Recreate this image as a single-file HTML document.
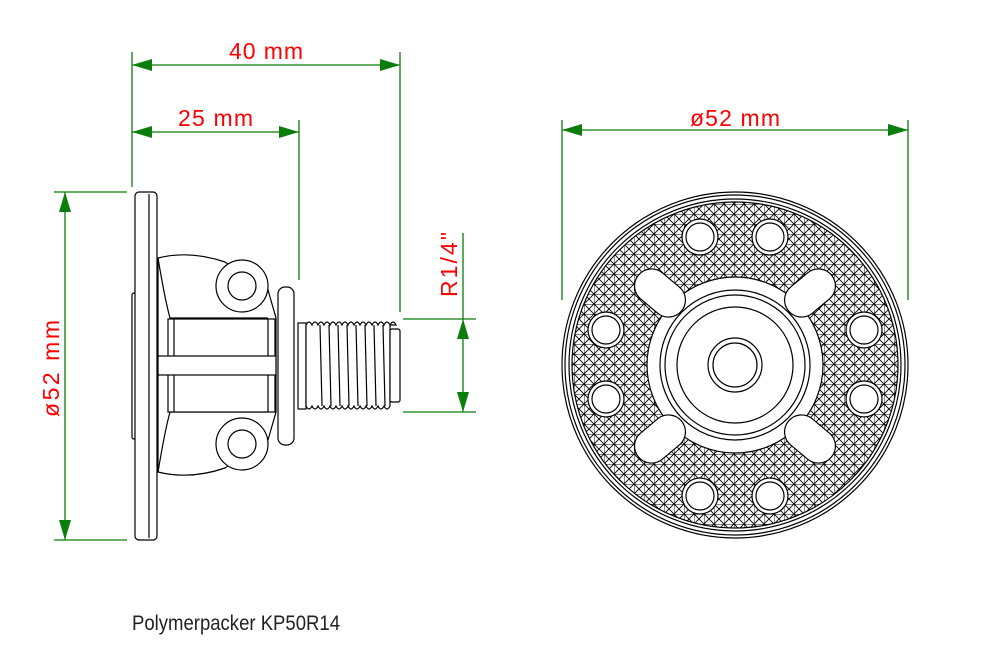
<!DOCTYPE html>
<html><head><meta charset="utf-8"><style>
html,body{margin:0;padding:0;background:#fff;width:1002px;height:667px;overflow:hidden}
svg{display:block}
.d{stroke:#0a7d0a;stroke-width:1.3;fill:none}
.a{fill:#0a7d0a}
.t{fill:#f00;font-family:"Liberation Sans Narrow","Liberation Sans",sans-serif;font-size:23px}
.k{stroke:#000;stroke-width:1.2;fill:#fff}
.n{stroke:#000;stroke-width:1.2;fill:none}
</style></head><body>
<svg width="1002" height="667" viewBox="0 0 1002 667" xmlns="http://www.w3.org/2000/svg">
<defs>
<pattern id="h" width="10" height="10" patternUnits="userSpaceOnUse" x="4" y="4">
<path d="M0 0H10M0 0V10M0 0L10 10M10 0L0 10" stroke="#000" stroke-width="0.9" fill="none"/>
</pattern>
<clipPath id="c"><circle cx="735" cy="365" r="163"/></clipPath>
</defs>
<g class="d">
<path d="M132 52V187M400 52V312M299 120V280"/>
<path d="M132 65H400M132 132H299"/>
<path d="M54 192H127M54 540H127M65 192V540"/>
<path d="M403 319H476M403 412H476M463 233V412"/>
<path d="M562 120V300M908 120V300M562 130H908"/>
</g>
<g class="a">
<path d="M132 65l20-6v12zM400 65l-20-6v12z"/>
<path d="M132 132l20-6v12zM299 132l-20-6v12z"/>
<path d="M65 192l-6 20h12zM65 540l-6-20h12z"/>
<path d="M463 319l-6 20h12zM463 412l-6-20h12z"/>
<path d="M562 130l20-6v12zM908 130l-20-6v12z"/>
</g>
<text class="t" x="229" y="59" textLength="74" lengthAdjust="spacing">40 mm</text>
<text class="t" x="178" y="126" textLength="75" lengthAdjust="spacing">25 mm</text>
<text class="t" x="690" y="126" textLength="90" lengthAdjust="spacing">ø52 mm</text>
<text class="t" transform="translate(59,417) rotate(-90)" textLength="97" lengthAdjust="spacing">ø52 mm</text>
<text class="t" transform="translate(457,297) rotate(-90)" textLength="65" lengthAdjust="spacing">R1/4"</text>
<text x="132" y="630" font-family="Liberation Sans Narrow, Liberation Sans, sans-serif" font-size="21" fill="#222" textLength="208" lengthAdjust="spacingAndGlyphs">Polymerpacker KP50R14</text>

<g>
<path class="k" d="M158 258 Q190 250 225 262 L268 290 L276 318 L276 412 L268 440 L225 468 Q190 480 158 472 Z"/>
<path class="n" d="M158 258 Q165 300 170 318 L268 318 M158 472 Q165 430 170 412 L268 412"/>
<rect class="k" x="168" y="319" width="107" height="93"/>
<path class="n" d="M174 319V412M268 319V412"/>
<rect class="k" x="158" y="356" width="118" height="19"/>
<circle class="k" cx="242" cy="286" r="26"/><circle class="n" cx="242" cy="286" r="14"/>
<circle class="k" cx="242" cy="444" r="26"/><circle class="n" cx="242" cy="444" r="14"/>
<rect class="k" x="132" y="293" width="6" height="146" rx="2"/>
<rect class="k" x="135" y="192" width="22" height="348" rx="4"/>
<path class="n" d="M149 194V538"/>
<rect class="k" x="298" y="323" width="8" height="86"/>
<path class="k" d="M306 325 q3-6 6 0 q3-6 6 0 q3-6 6 0 q3-6 6 0 q3-6 6 0 q3-6 6 0 q3-6 6 0 q3-6 6 0 q3-6 6 0 q3-6 6 0 q3-6 6 0 q3-6 6 0 q3-6 6 0 q3-6 6 0 q3-6 6 0 L390 325 L390 406 q-3 6-6 0 q-3 6-6 0 q-3 6-6 0 q-3 6-6 0 q-3 6-6 0 q-3 6-6 0 q-3 6-6 0 q-3 6-6 0 q-3 6-6 0 q-3 6-6 0 q-3 6-6 0 q-3 6-6 0 q-3 6-6 0 q-3 6-6 0 Z"/>
<path class="n" d="M320 325 L322 406 M329 325 L331 406 M338 325 L340 406 M347 325 L349 406 M356 325 L358 406 M365 325 L367 406 M374 325 L376 406 M383 325 L385 406"/>
<rect class="k" x="390" y="329" width="10" height="73" rx="2"/>
<rect class="k" x="278" y="287" width="16" height="158" rx="7"/>
</g>

<g>
<circle class="n" cx="735" cy="365" r="173"/>
<circle class="n" cx="735" cy="365" r="170"/>
<circle class="n" cx="735" cy="365" r="166"/>
<rect x="560" y="190" width="350" height="350" fill="url(#h)" clip-path="url(#c)"/>
<circle class="n" cx="735" cy="365" r="163"/>
<circle class="k" cx="735" cy="365" r="88"/>
<g class="k">
<circle cx="700" cy="237" r="18"/><circle cx="770" cy="237" r="18"/>
<circle cx="606" cy="330" r="18"/><circle cx="864" cy="330" r="18"/>
<circle cx="606" cy="399" r="18"/><circle cx="864" cy="399" r="18"/>
<circle cx="700" cy="496" r="18"/><circle cx="770" cy="496" r="18"/>
</g>
<g class="n">
<circle cx="700" cy="237" r="14"/><circle cx="770" cy="237" r="14"/>
<circle cx="606" cy="330" r="14"/><circle cx="864" cy="330" r="14"/>
<circle cx="606" cy="399" r="14"/><circle cx="864" cy="399" r="14"/>
<circle cx="700" cy="496" r="14"/><circle cx="770" cy="496" r="14"/>
</g>
<g class="k">
<rect x="632" y="276" width="56" height="34" rx="17" transform="rotate(40 660 293)"/>
<rect x="782" y="276" width="56" height="34" rx="17" transform="rotate(-40 810 293)"/>
<rect x="632" y="422" width="56" height="34" rx="17" transform="rotate(-40 660 439)"/>
<rect x="782" y="422" width="56" height="34" rx="17" transform="rotate(40 810 439)"/>
</g>
<circle class="n" cx="735" cy="365" r="75"/>
<circle class="n" cx="735" cy="365" r="70"/>
<circle class="n" cx="735" cy="365" r="58"/>
<circle class="n" cx="735" cy="365" r="27"/>
<circle class="n" cx="735" cy="365" r="22"/>
</g>
</svg>
</body></html>
